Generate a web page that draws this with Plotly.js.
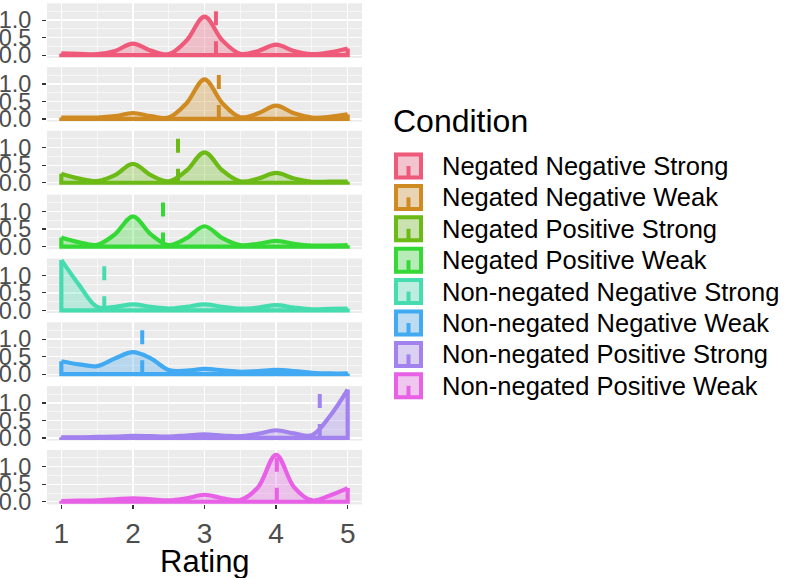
<!DOCTYPE html>
<html><head><meta charset="utf-8">
<script src="https://cdn.plot.ly/plotly-3.0.1.min.js"></script>
<style>html,body{margin:0;padding:0;background:#fff}#chart{width:785px;height:578px}</style>
</head><body><div id="chart"></div>
<script>
// ---- data ----
const conditions = [
  'Negated Negative Strong',
  'Negated Negative Weak',
  'Negated Positive Strong',
  'Negated Positive Weak',
  'Non-negated Negative Strong',
  'Non-negated Negative Weak',
  'Non-negated Positive Strong',
  'Non-negated Positive Weak'
];
const colors = ['#F05A7A','#D08A22','#6CBA16','#35D935','#45DDB0','#42AAF2','#A282EE','#E860E6'];
const rating = [1,1.25,1.5,1.75,2,2.25,2.5,2.75,3,3.25,3.5,3.75,4,4.25,4.5,4.75,5];
const negatedNegativeStrong    = [0.05,0.04,0.03,0.12,0.33,0.13,0.03,0.42,1.10,0.42,0.04,0.12,0.30,0.12,0.03,0.08,0.19];
const negatedNegativeWeak      = [0.04,0.04,0.04,0.08,0.17,0.08,0.04,0.45,1.13,0.45,0.05,0.16,0.38,0.16,0.04,0.06,0.13];
const negatedPositiveStrong    = [0.26,0.12,0.05,0.22,0.54,0.22,0.04,0.35,0.87,0.35,0.04,0.12,0.28,0.12,0.03,0.03,0.03];
const negatedPositiveWeak      = [0.26,0.12,0.05,0.35,0.86,0.35,0.04,0.24,0.58,0.24,0.04,0.08,0.16,0.08,0.03,0.03,0.04];
const nonNegatedNegativeStrong = [1.44,0.72,0.10,0.10,0.17,0.10,0.05,0.10,0.17,0.10,0.05,0.08,0.15,0.08,0.03,0.04,0.05];
const nonNegatedNegativeWeak   = [0.37,0.28,0.23,0.45,0.63,0.45,0.12,0.10,0.15,0.11,0.07,0.09,0.12,0.09,0.04,0.02,0.02];
const nonNegatedPositiveStrong = [0.02,0.02,0.03,0.04,0.06,0.05,0.04,0.07,0.10,0.07,0.05,0.12,0.22,0.13,0.08,0.62,1.38];
const nonNegatedPositiveWeak   = [0.02,0.03,0.04,0.07,0.10,0.07,0.04,0.10,0.20,0.10,0.05,0.42,1.34,0.42,0.04,0.18,0.39];
const means = [3.16, 3.20, 2.63, 2.42, 1.60, 2.13, 4.61, 4.01];
const xTickVals = [1,2,3,4,5];
const xTickText = ['1','2','3','4','5'];
const yTickVals = [0,0.5,1.0];
const yTickText = ['0.0','0.5','1.0'];
const xTitle = 'Rating';
const legendTitle = 'Condition';

const densities = [negatedNegativeStrong, negatedNegativeWeak, negatedPositiveStrong, negatedPositiveWeak,
  nonNegatedNegativeStrong, nonNegatedNegativeWeak, nonNegatedPositiveStrong, nonNegatedPositiveWeak];

function rgba(hex, a) {
  const r = parseInt(hex.slice(1,3),16), g = parseInt(hex.slice(3,5),16), b = parseInt(hex.slice(5,7),16);
  return `rgba(${r},${g},${b},${a})`;
}

// ---- layout geometry ----
const W = 785, H = 578;
const top0 = 3.3, pitch = 63.8, ph = 54.5, xl = 47, xr = 362;
const yRange = [-0.075, 1.48];
const FONT = 'Liberation Sans, Arial, sans-serif';
const LW = 4.2;

const traces = [], shapes = [], annotations = [];
const layout = {
  width: W, height: H,
  margin: {l: 0, r: 0, t: 0, b: 0},
  paper_bgcolor: 'white', plot_bgcolor: '#EBEBEB',
  showlegend: false,
  font: {family: FONT, color: '#4D4D4D'},
  shapes: shapes, annotations: annotations
};

const nPanels = densities.length;
densities.forEach((d, i) => {
  const n = i + 1;
  const sfx = n === 1 ? '' : String(n);
  const xa = 'x' + sfx, ya = 'y' + sfx;
  const last = rating.length - 1;
  traces.push({
    type: 'scatter', mode: 'lines', x: rating, y: d, xaxis: xa, yaxis: ya,
    line: {color: colors[i], width: LW, shape: 'spline', smoothing: 1},
    fill: 'tozeroy', fillcolor: rgba(colors[i], 0.3), hoverinfo: 'skip'
  });
  traces.push({
    type: 'scatter', mode: 'lines', x: [rating[0], rating[0], rating[last], rating[last]],
    y: [d[0], 0, 0, d[last]], xaxis: xa, yaxis: ya,
    line: {color: colors[i], width: LW}, hoverinfo: 'skip'
  });
  shapes.push({
    type: 'line', xref: xa, yref: ya, x0: means[i], x1: means[i], y0: 0, y1: yRange[1],
    line: {color: colors[i], width: 4, dash: '14px,16px'}, layer: 'above'
  });
  const ytop = top0 + i * pitch, ybot = ytop + ph;
  const isBottom = n === nPanels;
  layout['xaxis' + sfx] = {
    domain: [xl / W, xr / W], anchor: ya, range: [0.8, 5.2],
    tickmode: 'array', tickvals: xTickVals, ticktext: xTickText,
    showticklabels: isBottom, ticks: isBottom ? 'outside' : '', ticklen: 4, tickwidth: 1.2, tickcolor: '#333333',
    tickfont: {size: 28, color: '#4D4D4D', family: FONT},
    showgrid: true, gridcolor: 'white', gridwidth: 1.3, zeroline: false, showline: false,
    minor: {tickmode: 'array', tickvals: [1.5, 2.5, 3.5, 4.5], showgrid: true, gridcolor: 'white', gridwidth: 0.6},
    fixedrange: true
  };
  layout['yaxis' + sfx] = {
    domain: [1 - ybot / H, 1 - ytop / H], anchor: xa, range: yRange,
    tickmode: 'array', tickvals: yTickVals, ticktext: yTickText,
    ticks: 'outside', ticklen: 4, tickwidth: 1.2, tickcolor: '#333333',
    tickfont: {size: 23.5, color: '#4D4D4D', family: FONT}, ticklabelstandoff: 6,
    showgrid: true, gridcolor: 'white', gridwidth: 1.3, zeroline: false, showline: false,
    minor: {tickmode: 'array', tickvals: [0.25, 0.75, 1.25], showgrid: true, gridcolor: 'white', gridwidth: 0.6},
    fixedrange: true
  };
});

// ---- axis title and legend (ggplot style) ----
const px = (x) => x / W, py = (y) => 1 - y / H;
annotations.push({
  xref: 'paper', yref: 'paper', x: px((xl + xr) / 2), y: py(561), xanchor: 'center', yanchor: 'middle',
  text: xTitle, showarrow: false, font: {size: 31, color: '#000000', family: FONT}
});
annotations.push({
  xref: 'paper', yref: 'paper', x: px(391), y: py(121), xanchor: 'left', yanchor: 'middle',
  text: legendTitle, showarrow: false, font: {size: 32, color: '#000000', family: FONT}
});
conditions.forEach((c, i) => {
  const cy = 166 + i * 31.4;
  const kx0 = 394, kx1 = 423, ky0 = cy - 13.5, ky1 = cy + 13.5;
  shapes.push({type: 'rect', xref: 'paper', yref: 'paper', x0: px(kx0), x1: px(kx1), y0: py(ky1), y1: py(ky0),
    fillcolor: '#F2F2F2', line: {width: 0}});
  shapes.push({type: 'rect', xref: 'paper', yref: 'paper', x0: px(kx0 + 2), x1: px(kx1 - 2), y0: py(ky1 - 2), y1: py(ky0 + 2),
    fillcolor: rgba(colors[i], 0.3), line: {color: colors[i], width: 4}});
  shapes.push({type: 'line', xref: 'paper', yref: 'paper', x0: px(408.5), x1: px(408.5), y0: py(ky1 - 2), y1: py(cy),
    line: {color: colors[i], width: 4}});
  annotations.push({
    xref: 'paper', yref: 'paper', x: px(440), y: py(cy), xanchor: 'left', yanchor: 'middle',
    text: c, showarrow: false, font: {size: 25.5, color: '#000000', family: FONT}
  });
});

Plotly.newPlot('chart', traces, layout, {displayModeBar: false, staticPlot: true});
</script>
</body></html>
